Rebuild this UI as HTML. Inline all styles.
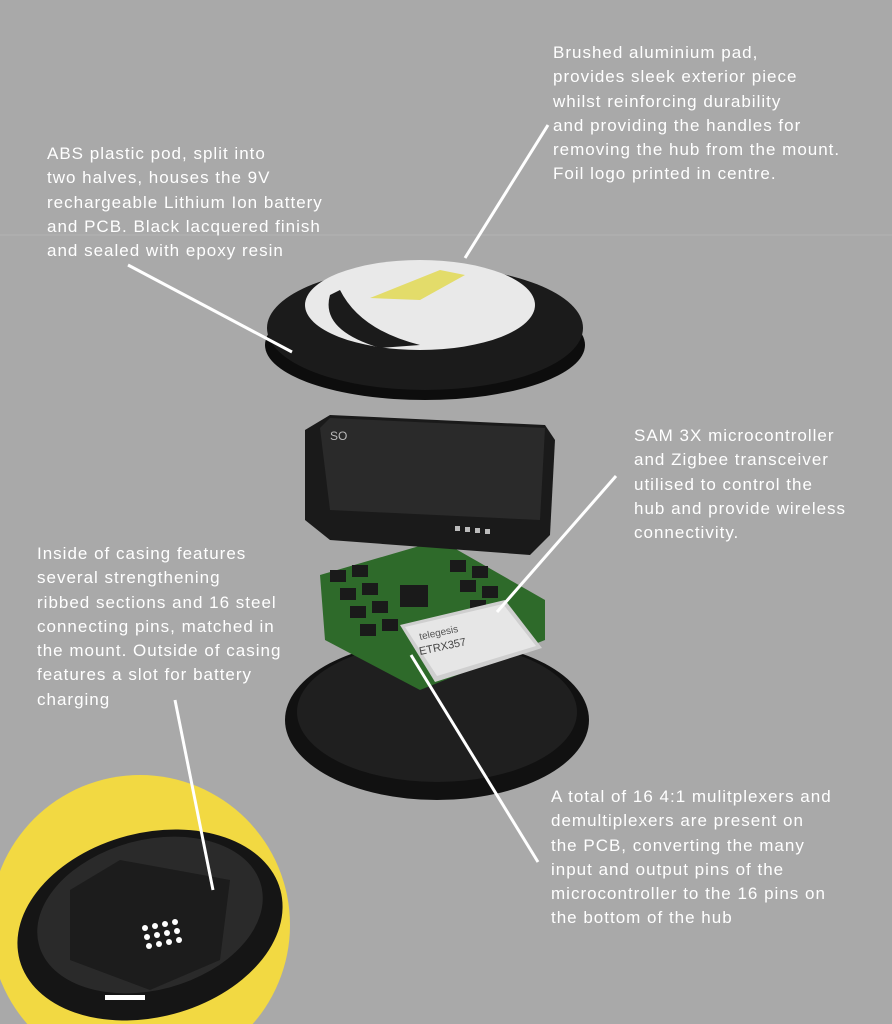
<!DOCTYPE html>
<html><head><meta charset="utf-8">
<style>
html,body{margin:0;padding:0}
body{width:892px;height:1024px;background:#a9a9a9;position:relative;overflow:hidden;font-family:"Liberation Sans",sans-serif}
.t{position:absolute;color:#fff;font-size:17px;letter-spacing:1px;line-height:24.3px;white-space:nowrap}
svg{position:absolute;left:0;top:0}
</style></head><body>
<svg width="892" height="1024" viewBox="0 0 892 1024">
<line x1="0" y1="235" x2="892" y2="235" stroke="#b3b3b3" stroke-width="1"/>
<circle cx="140" cy="925" r="150" fill="#f2d942"/>
<ellipse cx="150" cy="925" rx="135" ry="92" fill="#151515" transform="rotate(-15 150 925)"/>
<ellipse cx="150" cy="915" rx="115" ry="75" fill="#2a2a2a" transform="rotate(-15 150 915)"/>
<polygon points="70,890 120,860 230,880 220,960 150,990 70,960" fill="#1c1c1c"/>
<g fill="#fff">
<circle cx="145" cy="928" r="3"/><circle cx="155" cy="926" r="3"/><circle cx="165" cy="924" r="3"/><circle cx="175" cy="922" r="3"/>
<circle cx="147" cy="937" r="3"/><circle cx="157" cy="935" r="3"/><circle cx="167" cy="933" r="3"/><circle cx="177" cy="931" r="3"/>
<circle cx="149" cy="946" r="3"/><circle cx="159" cy="944" r="3"/><circle cx="169" cy="942" r="3"/><circle cx="179" cy="940" r="3"/>
<rect x="105" y="995" width="40" height="5"/>
</g>
<ellipse cx="437" cy="720" rx="152" ry="80" fill="#111"/>
<ellipse cx="437" cy="712" rx="140" ry="70" fill="#1f1f1f"/>
<polygon points="320,575 440,540 545,600 545,640 420,690 325,640" fill="#2e6a2a"/>
<g fill="#1a1a1a">
<rect x="330" y="570" width="16" height="12"/><rect x="352" y="565" width="16" height="12"/><rect x="340" y="588" width="16" height="12"/><rect x="362" y="583" width="16" height="12"/>
<rect x="350" y="606" width="16" height="12"/><rect x="372" y="601" width="16" height="12"/><rect x="360" y="624" width="16" height="12"/><rect x="382" y="619" width="16" height="12"/>
<rect x="400" y="585" width="28" height="22"/>
<rect x="450" y="560" width="16" height="12"/><rect x="472" y="566" width="16" height="12"/><rect x="460" y="580" width="16" height="12"/><rect x="482" y="586" width="16" height="12"/>
<rect x="470" y="600" width="16" height="12"/><rect x="492" y="606" width="16" height="12"/>
</g>
<polygon points="400,625 505,600 542,648 435,682" fill="#cfcfcf"/>
<polygon points="405,627 503,604 536,646 437,676" fill="#e6e6e6"/>
<text x="420" y="640" font-size="10" fill="#555" transform="rotate(-12 420 640)" font-family="Liberation Sans">telegesis</text>
<text x="420" y="655" font-size="11" fill="#444" transform="rotate(-12 420 655)" font-family="Liberation Sans">ETRX357</text>
<polygon points="305,430 330,415 545,425 555,440 550,535 530,555 330,540 305,520" fill="#1a1a1a"/>
<polygon points="320,428 330,418 545,428 540,520 330,510" fill="#2a2a2a"/>
<text x="330" y="440" font-size="12" fill="#bbb" font-family="Liberation Sans">SO</text>
<g fill="#bbb"><rect x="455" y="526" width="5" height="5"/><rect x="465" y="527" width="5" height="5"/><rect x="475" y="528" width="5" height="5"/><rect x="485" y="529" width="5" height="5"/></g>
<ellipse cx="425" cy="345" rx="160" ry="55" fill="#0d0d0d"/>
<ellipse cx="425" cy="328" rx="158" ry="62" fill="#1b1b1b"/>
<ellipse cx="420" cy="305" rx="115" ry="45" fill="#e9e9e9"/>
<path d="M340,290 Q360,330 420,345 L380,348 Q320,330 330,295 Z" fill="#1b1b1b"/>
<polygon points="370,298 440,270 465,275 420,300" fill="#e3dc6a"/>
<g stroke="#fff" stroke-width="3" fill="none">
<line x1="465" y1="258" x2="548" y2="125"/>
<line x1="128" y1="265" x2="292" y2="352"/>
<line x1="616" y1="476" x2="497" y2="612"/>
<line x1="175" y1="700" x2="213" y2="890"/>
<line x1="411" y1="655" x2="538" y2="862"/>
</g>
</svg>
<div class="t" style="left:553px;top:41px">Brushed aluminium pad,<br>provides sleek exterior piece<br>whilst reinforcing durability<br>and providing the handles for<br>removing the hub from the mount.<br>Foil logo printed in centre.</div>
<div class="t" style="left:47px;top:142px">ABS plastic pod, split into<br>two halves, houses the 9V<br>rechargeable Lithium Ion battery<br>and PCB. Black lacquered finish<br>and sealed with epoxy resin</div>
<div class="t" style="left:634px;top:424px">SAM 3X microcontroller<br>and Zigbee transceiver<br>utilised to control the<br>hub and provide wireless<br>connectivity.</div>
<div class="t" style="left:37px;top:542px">Inside of casing features<br>several strengthening<br>ribbed sections and 16 steel<br>connecting pins, matched in<br>the mount. Outside of casing<br>features a slot for battery<br>charging</div>
<div class="t" style="left:551px;top:785px">A total of 16 4:1 mulitplexers and<br>demultiplexers are present on<br>the PCB, converting the many<br>input and output pins of the<br>microcontroller to the 16 pins on<br>the bottom of the hub</div>
</body></html>
